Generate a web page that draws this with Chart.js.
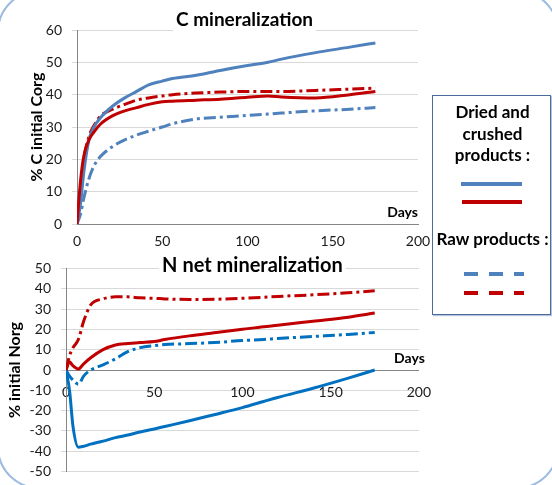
<!DOCTYPE html>
<html>
<head>
<meta charset="utf-8">
<script src="https://cdn.jsdelivr.net/npm/chart.js@4.4.1/dist/chart.umd.min.js"></script>
<style>
  body { margin: 0; width: 552px; height: 485px; overflow: hidden; background: #fff; position: relative; font-family: Lato, "Open Sans", sans-serif; }
  .frame { position: absolute; left: -3px; top: -10px; width: 562px; height: 499px; box-sizing: border-box; border: 2px solid #9dbbe0; border-radius: 42px; }
  #cChart { position: absolute; left: 0; top: 0; }
  #nChart { position: absolute; left: 0; top: 250px; }
  .legend { position: absolute; left: 432px; top: 95px; width: 119px; height: 220px; box-sizing: border-box; border: 1.5px solid #4a6b9b; box-shadow: 1px 1px 1px #b5c4d8; background: #fff; }
  .legend .t { position: absolute; left: 0; width: 119px; text-align: center; font-weight: bold; font-size: 17px; line-height: 21.5px; color: #000; white-space: nowrap; }
  .legend svg { position: absolute; left: 0; top: 0; }
</style>
</head>
<body>
<div class="frame"></div>
<canvas id="cChart" width="440" height="252"></canvas>
<canvas id="nChart" width="445" height="240"></canvas>
<div class="legend">
  <div class="t" style="top:5px">Dried and<br>crushed<br>products :</div>
  <div class="t" style="top:132px; left:-2px; width:123px">Raw products :</div>
  <svg width="119" height="220">
    <line x1="28" y1="88" x2="89" y2="88" stroke="#4f81bd" stroke-width="4"/>
    <line x1="29" y1="106" x2="89" y2="106" stroke="#c00000" stroke-width="4"/>
    <line x1="31" y1="178" x2="91" y2="178" stroke="#4f81bd" stroke-width="4" stroke-dasharray="14 11"/>
    <line x1="31" y1="197" x2="91" y2="197" stroke="#c00000" stroke-width="4" stroke-dasharray="14 11"/>
  </svg>
</div>
<script>
// sampling days shared by all curves
const days = [0, 2, 4, 7, 10, 14, 21, 28, 35, 42, 50, 56, 70, 84, 100, 112, 120, 140, 160, 175];

// C mineralization (% C initial Corg)
const cDriedBlue = [0, 6, 16, 26, 30, 33, 36.5, 39, 41, 43, 44.2, 45, 46, 47.5, 49, 50, 51, 53, 54.7, 56];
const cDriedRed  = [0, 13, 21, 26, 28.5, 31, 33.5, 35, 36, 37, 37.8, 38, 38.3, 38.6, 39.2, 39.6, 39.3, 39, 40, 41];
const cRawBlue   = [0, 3, 8, 14, 18, 21, 24, 26, 27.5, 28.7, 30, 31, 32.5, 33, 33.6, 34, 34.3, 35, 35.5, 36];
const cRawRed    = [0, 10, 20, 27, 30.5, 33.5, 35.5, 37, 38.3, 39, 39.6, 40, 40.5, 40.8, 41, 41, 41, 41.3, 41.7, 42];

// N net mineralization (% initial Norg)
const nDriedBlue = [0, -10, -28, -38, -37.5, -36.5, -35, -33.3, -32, -30.5, -29, -27.8, -25, -22, -18.5, -15.5, -13.5, -9, -4, 0];
const nDriedRed  = [0, 4, 2, 0.5, 3, 6, 10, 12.3, 13, 13.5, 14, 15, 16.8, 18.3, 20, 21.3, 22, 24, 26, 28];
const nRawBlue   = [0, -3, -5, -7, -3, 0, 2.5, 5.5, 9, 11, 12, 12.5, 13, 13.5, 14.5, 15, 15.5, 16.5, 17.5, 18.5];
const nRawRed    = [0, 7, 11, 15, 24, 32, 35, 36, 36, 35.5, 35.3, 35, 34.7, 34.8, 35.3, 35.8, 36.2, 37, 38, 39];

const xRange = [0, 200];
const cRange = [0, 60];
const nRange = [-50, 50];

Chart.defaults.font.family = 'Lato';
Chart.defaults.color = '#1a1a1a';

const pts = vals => days.map((d, i) => ({ x: d, y: vals[i] }));

const series = (vals, color, dashed) => ({
    data: pts(vals),
    borderColor: color,
    borderWidth: 3,
    borderDash: dashed ? [12, 4, 3, 4] : [],
    pointRadius: 0,
    fill: false,
    cubicInterpolationMode: 'monotone'
});

// title with white box over the top gridline + "Days" label
const overlayText = {
    id: 'overlayText',
    afterDraw(chart, args, opts) {
        const { ctx, chartArea, scales } = chart;
        ctx.save();
        ctx.font = 'bold ' + opts.titleSize + 'px Lato';
        ctx.textAlign = 'center';
        ctx.textBaseline = 'middle';
        const tw = ctx.measureText(opts.title).width;
        const tx = (chartArea.left + chartArea.right) / 2 + opts.titleDx;
        const ty = chartArea.top + opts.titleDy;
        ctx.fillStyle = '#fff';
        ctx.fillRect(tx - tw / 2 - 3, ty - 12, tw + 6, 24);
        ctx.fillStyle = '#000';
        ctx.fillText(opts.title, tx, ty);
        ctx.font = 'bold 14px Lato';
        ctx.textAlign = 'right';
        ctx.fillText('Days', chartArea.right + opts.daysDx, scales.y.getPixelForValue(0) - 12);
        ctx.restore();
    }
};

const yAxis = (range, title, width, titlePad) => ({
    min: range[0], max: range[1],
    ticks: { stepSize: 10, font: { size: 14 }, padding: 10 },
    grid: { color: '#d9d9d9', tickLength: 5 },
    border: { color: '#868686' },
    title: { display: true, text: title, color: '#000', font: { size: 16, weight: 'bold' }, padding: { top: titlePad, bottom: 0 } },
    afterFit(s) { s.width = width; }
});

// 1. C mineralization
new Chart(document.getElementById('cChart'), {
    type: 'line',
    data: {
        datasets: [
            series(cDriedRed, '#c00000', false),
            series(cDriedBlue, '#4f81bd', false),
            series(cRawRed, '#c00000', true),
            series(cRawBlue, '#4f81bd', true)
        ]
    },
    options: {
        responsive: false,
        animation: false,
        layout: { padding: { top: 30, right: 22, left: 0, bottom: 0 } },
        plugins: {
            legend: { display: false },
            tooltip: { enabled: false },
            overlayText: { title: 'C mineralization', titleSize: 19, titleDx: -3, titleDy: -10, daysDx: 0 }
        },
        scales: {
            x: {
                type: 'linear', min: xRange[0], max: xRange[1],
                ticks: { stepSize: 50, font: { size: 14 }, padding: 9, maxRotation: 0 },
                grid: { display: false, drawTicks: false },
                border: { color: '#868686' },
                afterFit(s) { s.height = 28; }
            },
            y: yAxis(cRange, '% C initial Corg', 77, 27)
        }
    },
    plugins: [overlayText]
});

// 2. N net mineralization
new Chart(document.getElementById('nChart'), {
    type: 'line',
    data: {
        datasets: [
            series(nDriedRed, '#c00000', false),
            series(nDriedBlue, '#0070c0', false),
            series(nRawRed, '#c00000', true),
            series(nRawBlue, '#0070c0', true)
        ]
    },
    options: {
        responsive: false,
        animation: false,
        layout: { padding: { top: 18, right: 16, left: 0, bottom: 12 } },
        plugins: {
            legend: { display: false },
            tooltip: { enabled: false },
            overlayText: { title: 'N net mineralization', titleSize: 20, titleDx: 10, titleDy: -3, daysDx: 6 }
        },
        scales: {
            x: {
                type: 'linear', position: { y: 0 }, min: xRange[0], max: xRange[1],
                ticks: { stepSize: 50, font: { size: 14 }, padding: 14, maxRotation: 0 },
                grid: { display: false, drawTicks: false },
                border: { color: '#868686' }
            },
            y: yAxis(nRange, '% initial Norg', 66, 5)
        }
    },
    plugins: [overlayText]
});
</script>
</body>
</html>
